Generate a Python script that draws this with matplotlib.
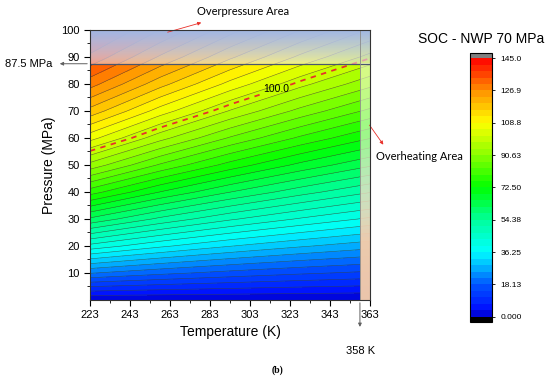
import numpy as np
import matplotlib
matplotlib.use("Agg")
import matplotlib.pyplot as plt
from matplotlib.colors import LinearSegmentedColormap

plt.rcParams['font.family'] = ['Liberation Sans', 'DejaVu Sans']

# grid: SOC (%) at temperature (K) x pressure (MPa)
temps = [223, 258, 293, 328, 363]
pressures = [0, 10, 20, 30, 40, 50, 60, 70, 80, 90, 100]
soc_223 = [0, 22.0, 42.3, 60.9, 77.8, 93.0, 106.5, 118.3, 128.4, 136.9, 143.6]
soc_258 = [0, 19.1, 37.0, 53.5, 68.8, 82.9, 95.6, 107.1, 117.4, 126.4, 134.1]
soc_293 = [0, 16.9, 32.8, 47.7, 61.7, 74.7, 86.6, 97.6, 107.6, 116.7, 124.7]
soc_328 = [0, 15.1, 29.5, 43.1, 55.9, 67.9, 79.1, 89.5, 99.1, 108.0, 116.1]
soc_363 = [0, 13.7, 26.8, 39.2, 51.0, 62.2, 72.7, 82.5, 91.8, 100.4, 108.3]

soc_min, soc_max = 0.0, 145.0
n_levels = 40
cbar_ticks = np.linspace(soc_min, soc_max, 9)
cbar_labels = ['0.000', '18.13', '36.25', '54.38', '72.50', '90.63', '108.8', '126.9', '145.0']
p_limit = 87.5
t_limit = 358

soc = np.array([soc_223, soc_258, soc_293, soc_328, soc_363]).T
T, P = np.meshgrid(temps, pressures)

cmap = LinearSegmentedColormap.from_list('origin_rainbow', [
    (0.0, '#0000c8'), (0.03, '#0010ff'), (0.125, '#0058ff'), (0.25, '#00ffff'),
    (0.375, '#00ff9a'), (0.5, '#00ff00'), (0.625, '#88ff00'), (0.75, '#ffff00'),
    (0.875, '#ff9000'), (1.0, '#ff0000')])
cmap.set_over('#808080')
cmap.set_under('#000000')

fig = plt.figure(figsize=(5.5, 3.81), dpi=100)
ax = fig.add_axes([0.1636, 0.2126, 0.509, 0.7087])

levels = np.linspace(soc_min, soc_max, n_levels + 1)
cf = ax.contourf(T, P, soc, levels=levels, cmap=cmap, extend='both')
ax.contour(T, P, soc, levels=levels, colors='#383838', linewidths=0.4, alpha=0.75)
c100 = ax.contour(T, P, soc, levels=[100], colors='#e8302a', linewidths=1.3,
                  linestyles=[(0, (3, 3))])
lbls = ax.clabel(c100, fmt='%.1f', manual=[(316, 78)], fontsize=7.5, colors='black',
                 inline_spacing=2)
for t in lbls:
    t.set_rotation(0)

# overpressure band
n = 60
a = np.linspace(0, 1, n)[:, None]
top_col = np.array([0.63, 0.72, 0.90])
bot_col = np.array([0.97, 0.92, 0.94])
mix = a ** 0.5
band = np.zeros((n, 2, 4))
band[..., :3] = (bot_col * (1 - mix) + top_col * mix)[:, None, :].repeat(2, axis=1)
band[..., 3] = (0.5 + 0.5 * mix).repeat(2, axis=1)
ax.imshow(band, extent=[223, 363, p_limit, 100], origin='lower', aspect='auto', zorder=3)

# overheating strip
peach = np.array([0.96, 0.80, 0.67])
pale = np.array([0.95, 0.97, 0.88])
mix2 = np.clip((a - 0.25) * 2.0, 0, 1)
strip = np.zeros((n, 2, 4))
strip[..., :3] = (peach * (1 - mix2) + pale * mix2)[:, None, :].repeat(2, axis=1)
strip[..., 3] = (0.97 - 0.37 * mix2).repeat(2, axis=1)
ax.imshow(strip, extent=[t_limit, 363, 0, p_limit], origin='lower', aspect='auto', zorder=3)

ax.axhline(p_limit, color='#4a5670', lw=0.9, zorder=4)
ax.axvline(t_limit, color='#8a8a8a', lw=0.6, zorder=4)

ax.set_xlim(223, 363)
ax.set_ylim(0, 100)
ax.set_xticks(np.arange(223, 364, 20))
ax.set_xticks(np.arange(233, 364, 20), minor=True)
ax.set_yticks(np.arange(10, 101, 10))
ax.set_yticks(np.arange(5, 100, 10), minor=True)
ax.tick_params(which='major', direction='out', length=4, width=0.8, labelsize=8)
ax.tick_params(which='minor', direction='out', length=2, width=0.6)
for s in ax.spines.values():
    s.set_linewidth(0.8)
    s.set_color('#333333')
    s.set_zorder(5)
ax.set_xlabel('Temperature (K)', fontsize=10, labelpad=3)
ax.set_ylabel('Pressure (MPa)', fontsize=10, labelpad=4)

# annotations outside
ax.annotate('', xy=(206.5, p_limit), xytext=(223, p_limit),
            arrowprops=dict(arrowstyle='-|>', color='#606060', lw=0.7, mutation_scale=5),
            annotation_clip=False)
ax.text(204, p_limit, '87.5 MPa', ha='right', va='center', fontsize=8)
ax.annotate('', xy=(t_limit, -11), xytext=(t_limit, 0),
            arrowprops=dict(arrowstyle='-|>', color='#606060', lw=0.7, mutation_scale=5),
            annotation_clip=False)
ax.text(t_limit + 0.5, -19, '358 K', ha='center', va='center', fontsize=8)

ax.annotate('', xy=(280, 103), xytext=(260.5, 98.9),
            arrowprops=dict(arrowstyle='-|>', color='#e8302a', lw=0.6, mutation_scale=5),
            annotation_clip=False)
ax.text(276.5, 106.7, 'Overpressure Area', ha='left', va='center', fontsize=8, family='Lato')
ax.annotate('', xy=(370.5, 56.7), xytext=(362, 65.6),
            arrowprops=dict(arrowstyle='-|>', color='#e8302a', lw=0.6, mutation_scale=5),
            annotation_clip=False)
ax.text(366, 53, 'Overheating Area', ha='left', va='center', fontsize=8, family='Lato')

# colorbar
cax = fig.add_axes([0.8545, 0.155, 0.04, 0.706])
cb = fig.colorbar(cf, cax=cax, extend='both', extendrect=True, extendfrac=0.02)
cb.set_ticks(cbar_ticks)
cb.set_ticklabels(cbar_labels)
cb.ax.tick_params(labelsize=6, length=2.5, width=0.6)
cb.outline.set_linewidth(0.8)
fig.text(481 / 550, 1 - 39 / 381, 'SOC - NWP 70 MPa', ha='center', va='center', fontsize=10)

fig.text(277 / 550, 1 - 370 / 381, '(b)', ha='center', va='center', fontsize=7,
         fontweight='bold', family='Liberation Serif')

fig.savefig('out.png', dpi=100)
